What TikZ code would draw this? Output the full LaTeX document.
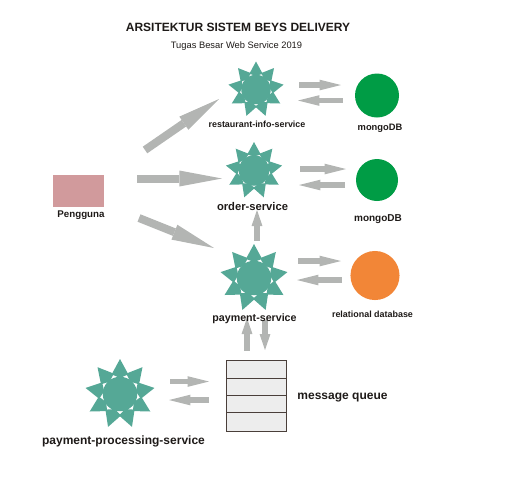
\documentclass[tikz,border=0pt]{standalone}
\usepackage{fontspec}
\setmainfont{Liberation Sans}
\usetikzlibrary{arrows.meta}
\definecolor{starcol}{HTML}{55A896}
\definecolor{pinkcol}{HTML}{D19A9C}
\definecolor{arrowcol}{HTML}{B3B5B3}
\definecolor{greencol}{HTML}{009C45}
\definecolor{orangecol}{HTML}{F28637}
\definecolor{qfill}{HTML}{EDEDED}
\definecolor{qline}{HTML}{4A3F3A}
\definecolor{textcol}{HTML}{1E1A18}
\tikzset{
  blockarrow/.style n args={3}{draw=arrowcol,line width=#1,
    -{Triangle[length=#2,width=#3,fill=arrowcol,line width=0pt]}},
  bigarrow/.style={blockarrow={6pt}{32pt}{12pt}},
  midarrow/.style={blockarrow={4.1pt}{16pt}{8pt}},
  vertarrow/.style={blockarrow={4.5pt}{12pt}{8.2pt}},
  dbcircle/.style={circle,draw=none,inner sep=0pt},
  lbl/.style={text=textcol,font=\bfseries,inner sep=0pt},
  queuecell/.style={draw=qline,fill=qfill,line width=0.75pt,minimum width=45pt,inner sep=0pt,outer sep=0pt},
  corecircle/.style={circle,fill=starcol,draw=none,inner sep=0pt},
}
% name, cx, cy, tip radius, core diameter (px)
\newcommand{\starnode}[5]{%
  \pgfmathsetmacro{\rhoval}{#5/2-1.2}
  \pgfmathsetmacro{\cval}{0.61*#4}
  \foreach \a in {90,50,10,-30,-70,-110,-150,170,130}{
    \fill[starcol] ({#2+#4*cos(\a)},{#3-#4*sin(\a)})
      -- ({#2+\cval*cos(\a+23)},{#3-\cval*sin(\a+23)})
      -- ({#2+\rhoval*cos(\a)},{#3-\rhoval*sin(\a)})
      -- ({#2+\cval*cos(\a-23)},{#3-\cval*sin(\a-23)})
      -- cycle;
  }
  \node[corecircle,minimum size={#5*0.75pt}] (#1) at (#2,#3) {};
}
\begin{document}
\begin{tikzpicture}[x=0.75pt,y=-0.75pt]
\useasboundingbox (0,0) rectangle (506,487);
\node[fill=pinkcol,minimum width=37.9pt,minimum height=24.4pt,inner sep=0pt] (user) at (78.7,191) {};

\starnode{s1}{256}{89.5}{28}{29.5}
\starnode{s2}{254}{170.5}{28.5}{30.5}
\starnode{s3}{254}{278}{34}{34.5}
\starnode{s4}{120}{394}{35}{34.5}

\node[dbcircle,fill=greencol,minimum size=33pt] (db1) at (377,95.5) {};
\node[dbcircle,fill=greencol,minimum size=31.5pt] (db2) at (377,180) {};
\node[dbcircle,fill=orangecol,minimum size=36.8pt] (db3) at (375,275.5) {};

\node[queuecell,minimum height=13.5pt] (q1) at (256,369) {};
\node[queuecell,minimum height=12.75pt] (q2) at (256,386.5) {};
\node[queuecell,minimum height=12.75pt] (q3) at (256,403.5) {};
\node[queuecell,minimum height=14.25pt] (q4) at (256,421.5) {};

% free ends of the arrows
\coordinate (a1s) at (145,150); \coordinate (a1e) at (219,99);
\coordinate (a2s) at (137,178.5); \coordinate (a2e) at (222,178.5);
\coordinate (a3s) at (139,218); \coordinate (a3e) at (214,248);
\coordinate (b1s) at (299,85); \coordinate (b1e) at (341,85);
\coordinate (b2s) at (343,100.5); \coordinate (b2e) at (298,100.5);
\coordinate (c1s) at (300,169); \coordinate (c1e) at (346,169);
\coordinate (c2s) at (345,185); \coordinate (c2e) at (299,185);
\coordinate (d1s) at (298,261); \coordinate (d1e) at (341,261);
\coordinate (d2s) at (342,280); \coordinate (d2e) at (297,280);
\coordinate (e1s) at (257,240.5); \coordinate (e1e) at (257,210);
\coordinate (f1s) at (247,351); \coordinate (f1e) at (247,318);
\coordinate (f2s) at (265,320); \coordinate (f2e) at (265,350);
\coordinate (g1s) at (170,381.5); \coordinate (g1e) at (209,381.5);
\coordinate (g2s) at (209,400); \coordinate (g2e) at (169,400);

\draw[bigarrow] (a1s) -- (a1e);
\draw[bigarrow] (a2s) -- (a2e);
\draw[bigarrow] (a3s) -- (a3e);
\draw[midarrow] (b1s) -- (b1e);
\draw[midarrow] (b2s) -- (b2e);
\draw[midarrow] (c1s) -- (c1e);
\draw[midarrow] (c2s) -- (c2e);
\draw[midarrow] (d1s) -- (d1e);
\draw[midarrow] (d2s) -- (d2e);
\draw[vertarrow] (e1s) -- (e1e);
\draw[vertarrow] (f1s) -- (f1e);
\draw[vertarrow] (f2s) -- (f2e);
\draw[midarrow] (g1s) -- (g1e);
\draw[midarrow] (g2s) -- (g2e);

\node[lbl,font=\bfseries\fontsize{9}{11}\selectfont] (title) at (238,27) {ARSITEKTUR SISTEM BEYS DELIVERY};
\node[text=textcol,inner sep=0pt,font=\fontsize{7}{8}\selectfont] (subtitle) at (236.5,46) {Tugas Besar Web Service 2019};
\node[lbl,font=\bfseries\fontsize{7.3}{8}\selectfont] (userl) at (81,215.5) {Pengguna};
\node[lbl,font=\bfseries\fontsize{6.7}{8}\selectfont] (s1l) at (257,124.5) {restaurant-info-service};
\node[lbl,font=\bfseries\fontsize{8.4}{9}\selectfont] (s2l) at (252.5,206.5) {order-service};
\node[lbl,font=\bfseries\fontsize{8}{9}\selectfont] (s3l) at (254.5,319) {payment-service};
\node[lbl,font=\bfseries\fontsize{9}{10}\selectfont] (s4l) at (123.5,441.5) {payment-processing-service};
\node[lbl,font=\bfseries\fontsize{7}{8}\selectfont] (db1l) at (380,128.5) {mongoDB};
\node[lbl,font=\bfseries\fontsize{7.5}{9}\selectfont] (db2l) at (378,219.5) {mongoDB};
\node[lbl,font=\bfseries\fontsize{6.7}{8}\selectfont] (db3l) at (372.5,314) {relational database};
\node[lbl,font=\bfseries\fontsize{9}{11}\selectfont] (ql) at (342.5,398) {message queue};
\end{tikzpicture}
\end{document}
